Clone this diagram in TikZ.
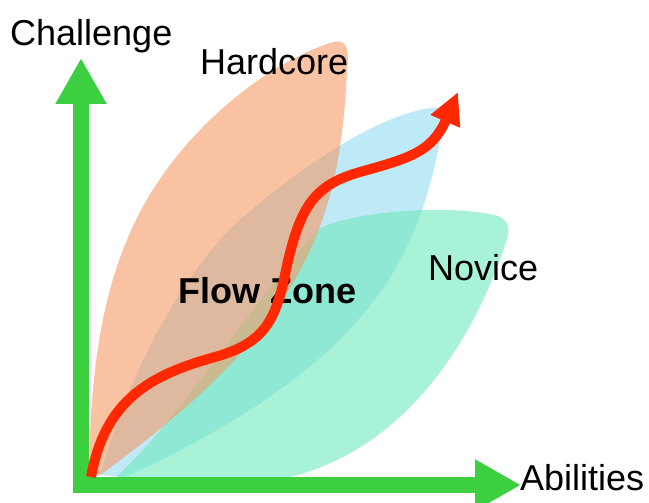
\documentclass[tikz,border=0pt]{standalone}
\usepackage{fontspec}
\setmainfont{Liberation Sans}
\usetikzlibrary{arrows.meta}
\definecolor{hardcorefill}{RGB}{245,155,102}
\definecolor{flowfill}{RGB}{147,218,240}
\definecolor{novicefill}{RGB}{110,233,190}
\definecolor{axisgreen}{RGB}{60,208,64}
\definecolor{pathred}{RGB}{255,40,0}
\begin{document}
\begin{tikzpicture}[x=1pt, y=-1pt, font=\fontsize{36}{40}\selectfont]

\tikzstyle{zone}=[fill opacity=0.6, draw=none]
\tikzstyle{axis}=[axisgreen, line width=16pt, line join=miter, {Triangle[length=46pt, width=48pt]}-{Triangle[length=46pt, width=48pt]}]
\tikzstyle{curve}=[pathred, line width=10pt, -{Triangle[length=32pt, width=30pt]}]
\tikzstyle{label}=[anchor=base west, inner sep=0pt]

\useasboundingbox (0,0) rectangle (649,503);

\fill[zone, flowfill] (100,475) .. controls (130,370) and (180,280) .. (232,227) .. controls (300,165) and (380,115) .. (430,108) .. controls (445,106) and (446,115) .. (442,130) .. controls (420,250) and (380,360) .. (125,477) -- cycle;
\fill[zone, novicefill] (116,477) .. controls (180,420) and (260,290) .. (320,228) .. controls (360,210) and (450,205) .. (495,215) .. controls (512,220) and (510,232) .. (505,245) .. controls (470,350) and (400,450) .. (290,477) -- cycle;
\fill[zone, hardcorefill] (89,475) .. controls (90,380) and (100,300) .. (130,233) .. controls (165,150) and (250,70) .. (330,43) .. controls (345,38) and (350,45) .. (347,70) .. controls (340,230) and (300,330) .. (100,475) -- cycle;

\node[label] (challenge) at (10,46) {Challenge};
\node[label] (hardcore) at (200,75) {Hardcore};
\node[label] (novice) at (428,280) {Novice};
\node[label] (abilities) at (520,490) {Abilities};
\node[label, font=\fontsize{36}{40}\selectfont\bfseries] (flowzone) at (178,303) {Flow Zone};

\coordinate (O) at (81,485);
\coordinate (ytip) at (81,58);
\coordinate (xtip) at (521,485);
\coordinate (start) at (91,477);
\coordinate (goal) at (458,92);

\draw[axis] (ytip) -- (O) -- (xtip);
\draw[curve] (start) .. controls (105,400) and (150,375) .. (215,357) .. controls (265,343) and (276,320) .. (286,270) .. controls (300,205) and (315,185) .. (360,172) .. controls (410,158) and (432,152) .. (goal);
\end{tikzpicture}
\end{document}
